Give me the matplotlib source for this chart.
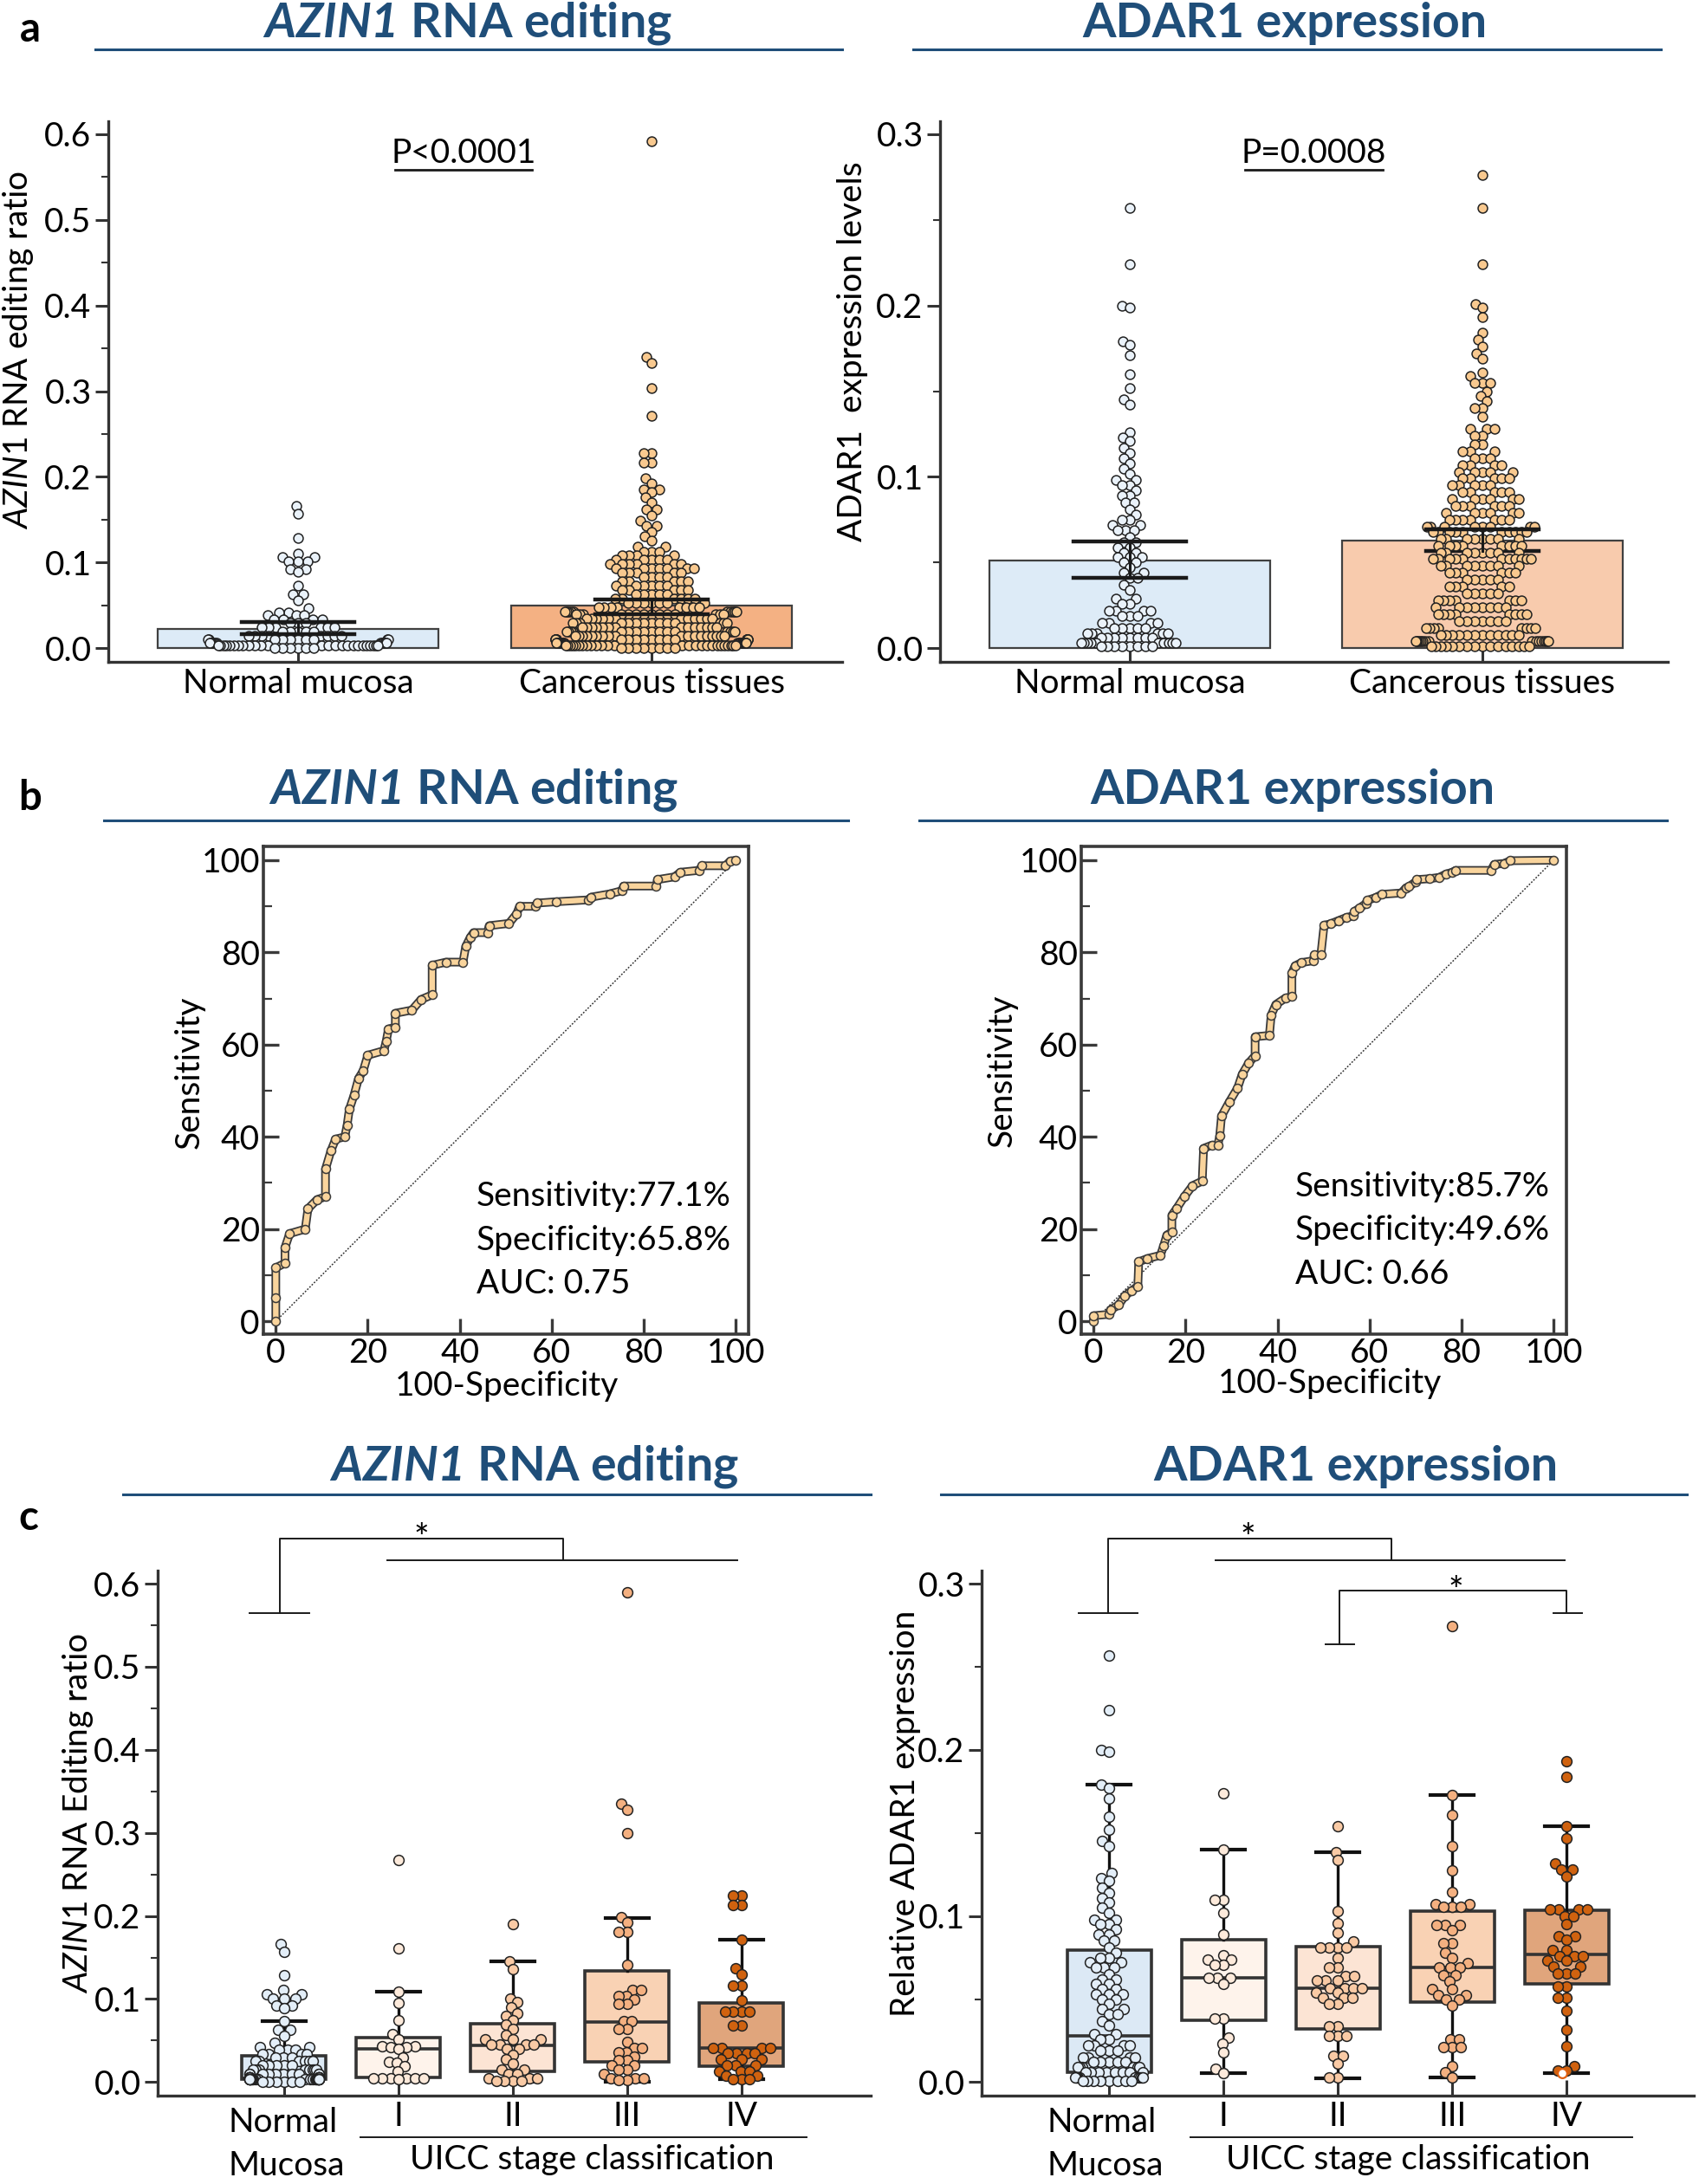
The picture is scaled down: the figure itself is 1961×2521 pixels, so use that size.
"""AZIN1 editing / ADAR1 expression: dot-bar plots, ROC curves and UICC-stage boxplots."""
import numpy as np
import matplotlib
matplotlib.use("Agg")
import matplotlib.pyplot as plt
from matplotlib.lines import Line2D
from matplotlib.ticker import MultipleLocator, FormatStrFormatter
from matplotlib.transforms import blended_transform_factory

plt.rcParams['font.family'] = ['Lato', 'DejaVu Sans']
plt.rcParams['mathtext.fontset'] = 'custom'
plt.rcParams['mathtext.rm'] = 'Lato'
plt.rcParams['mathtext.it'] = 'Lato:italic'
plt.rcParams['mathtext.bf'] = 'Lato:bold'
plt.rcParams['mathtext.bfit'] = 'Lato:bold:italic'

# ---------------- data ----------------
groups_a = ['Normal mucosa', 'Cancerous tissues']

# panel a, AZIN1 editing ratio (value levels and number of dots at each level)
azin_normal_vals = [0.166, 0.157, 0.129, 0.111, 0.106, 0.101, 0.092, 0.089, 0.073, 0.063, 0.056,
                    0.047, 0.042, 0.039, 0.034, 0.030, 0.025, 0.020, 0.015, 0.010, 0.006, 0.003, 0.000]
azin_normal_cnts = [1, 1, 1, 1, 2, 3, 2, 1, 1, 2, 1,
                    1, 2, 3, 4, 3, 6, 5, 8, 10, 12, 25, 6]
azin_cancer_vals = [0.592, 0.340, 0.333, 0.304, 0.271, 0.228, 0.217, 0.198, 0.192, 0.185, 0.182,
                    0.176, 0.170, 0.162, 0.155, 0.149, 0.143, 0.136, 0.131, 0.126,
                    0.119, 0.113, 0.108, 0.103, 0.098, 0.093, 0.088, 0.083, 0.078, 0.073,
                    0.068, 0.063, 0.058, 0.053, 0.048, 0.043, 0.040, 0.035, 0.030, 0.025,
                    0.020, 0.015, 0.010, 0.006, 0.003, 0.000]
azin_cancer_cnts = [1, 1, 1, 1, 1, 2, 2, 1, 1, 2, 1,
                    1, 1, 2, 1, 1, 2, 1, 1, 1,
                    2, 3, 4, 5, 6, 7, 5, 4, 5, 6,
                    5, 5, 6, 7, 8, 10, 14, 12, 14, 14,
                    16, 18, 20, 22, 26, 8]
azin_bar_mean = [0.023, 0.0496]
azin_ci_low = [0.017, 0.040]
azin_ci_high = [0.031, 0.057]

# panel a, ADAR1 expression levels
adar_normal_vals = [0.257, 0.224, 0.200, 0.199, 0.179, 0.177, 0.171, 0.160, 0.152, 0.145, 0.142,
                    0.126, 0.123, 0.121, 0.117, 0.114, 0.111, 0.108, 0.105, 0.102, 0.098, 0.095,
                    0.092, 0.089, 0.085, 0.081, 0.078, 0.075, 0.072, 0.069, 0.065, 0.062, 0.059,
                    0.056, 0.053, 0.050, 0.047, 0.044, 0.041, 0.037, 0.034, 0.029, 0.026, 0.022,
                    0.019, 0.015, 0.012, 0.009, 0.006, 0.003, 0.001]
adar_normal_cnts = [1, 1, 1, 1, 1, 1, 1, 1, 1, 1, 1,
                    1, 1, 1, 1, 1, 1, 1, 1, 1, 2, 2,
                    1, 2, 2, 1, 1, 2, 2, 3, 1, 2, 2,
                    2, 3, 2, 1, 2, 2, 1, 1, 2, 2, 4,
                    3, 4, 5, 6, 8, 10, 8]
adar_cancer_vals = [0.276, 0.257, 0.224, 0.201, 0.199, 0.193, 0.184, 0.180, 0.176, 0.172, 0.169,
                    0.161, 0.159, 0.155, 0.150, 0.147, 0.144, 0.140, 0.135, 0.128, 0.124, 0.119,
                    0.115, 0.111, 0.107, 0.103, 0.099, 0.095, 0.091, 0.087, 0.083, 0.079, 0.075,
                    0.071, 0.068, 0.064, 0.060, 0.056, 0.052, 0.048, 0.044, 0.040, 0.036, 0.032,
                    0.028, 0.024, 0.020, 0.016, 0.012, 0.008, 0.004, 0.001]
adar_cancer_cnts = [1, 1, 1, 1, 1, 1, 1, 1, 1, 1, 1,
                    1, 1, 3, 1, 1, 1, 2, 1, 3, 2, 2,
                    3, 3, 4, 5, 5, 5, 5, 6, 6, 6, 7,
                    8, 10, 8, 8, 8, 11, 8, 6, 5, 5, 5,
                    7, 8, 8, 7, 8, 12, 16, 16]
adar_bar_mean = [0.0514, 0.063]
adar_ci_low = [0.041, 0.057]
adar_ci_high = [0.0625, 0.0693]

# panel b, ROC curves (100-specificity, sensitivity)
roc_azin_fpr = [0, 0, 0, 2, 2, 3, 6.4, 7, 9, 10.8, 10.8, 12, 13, 15, 15.5, 16, 17, 18, 19, 20,
                23.5, 24, 24.5, 26, 26, 29.6, 31.6, 34, 34, 37, 40.7, 41.3, 42.3, 43, 46, 46.4,
                50.7, 52.4, 53, 56.5, 56.8, 61, 67.9, 68.6, 72.6, 75.3, 75.6, 82.7, 83, 86.7,
                88, 92, 92.7, 97.8, 98.8, 100]
roc_azin_tpr = [0, 5, 11.6, 12.6, 16, 19, 20, 24.4, 26.4, 27, 33, 37, 39.5, 40, 42.5, 46, 49, 52.7,
                54.3, 57.7, 58.7, 60.7, 63.4, 63.8, 66.8, 67.5, 69.8, 70.8, 77.2, 77.9, 77.9, 81.3,
                83.3, 84.3, 84.3, 85.8, 86.3, 88.4, 90, 90, 90.7, 91, 91.4, 92, 92.7, 93.4, 94.4,
                94.4, 95.8, 96.4, 97.4, 97.8, 98.8, 98.8, 99.8, 100]
roc_adar_fpr = [0, 0, 3.3, 3.7, 5.4, 6.8, 8.2, 9.6, 9.8, 11.7, 14.5, 15.2, 15.9, 17, 17, 18, 19.7,
                21.5, 23.6, 23.9, 25.7, 27, 27.4, 27.8, 29.5, 31.3, 32.3, 33.7, 35.1, 35.1, 38.2,
                38.6, 39.6, 41.7, 43.1, 43.1, 43.8, 45.2, 47.7, 48, 49.4, 50.1, 51.5, 53.2, 55,
                56.4, 56.7, 57.8, 59.2, 59.5, 61.3, 62.7, 66.9, 67.9, 68.6, 70, 70.3, 73.1, 75.2,
                76.6, 78, 78.7, 86.4, 87.1, 89.2, 90.6, 100]
roc_adar_tpr = [0, 1.2, 1.5, 2.5, 3.5, 5.5, 6.6, 7.6, 12.9, 13.6, 14.3, 16.3, 18.7, 19.3, 23, 24.4,
                27, 29.4, 30.4, 37.5, 38.2, 38.2, 40.2, 44.5, 47.6, 50.6, 53.6, 56, 57.6, 61.7, 62,
                66.4, 68.7, 70.1, 70.4, 75.5, 77.1, 77.8, 78.2, 79.5, 79.5, 85.9, 86.2, 86.9, 87.6,
                87.9, 88.9, 89.6, 90.6, 91.3, 91.9, 92.6, 92.9, 94, 94.3, 95.3, 95.8, 96, 96.3, 97,
                97.4, 97.8, 97.8, 99.1, 99.3, 99.9, 100]
roc_azin_text = ['Sensitivity:77.1%', 'Specificity:65.8%', 'AUC: 0.75']
roc_adar_text = ['Sensitivity:85.7%', 'Specificity:49.6%', 'AUC: 0.66']

# panel c, UICC stages
stages = ['I', 'II', 'III', 'IV']
azin_stage1 = [0.267, 0.161, 0.109, 0.095, 0.074, 0.058, 0.051, 0.043, 0.043, 0.042, 0.042, 0.040,
               0.030, 0.024, 0.023, 0.019, 0.013, 0.005, 0.005, 0.005, 0.005, 0.005, 0.005, 0.003]
azin_stage2 = [0.190, 0.145, 0.136, 0.101, 0.0965, 0.090, 0.083, 0.080, 0.0745, 0.069, 0.064, 0.057,
               0.051, 0.051, 0.051, 0.045, 0.045, 0.045, 0.045, 0.0395, 0.0395, 0.0325, 0.027, 0.022,
               0.015, 0.015, 0.0098, 0.0098, 0.0045, 0.0045, 0.0045, 0.001, 0.001, 0.001, 0.001]
azin_stage3 = [0.590, 0.335, 0.328, 0.300, 0.199, 0.192, 0.181, 0.181, 0.141, 0.111, 0.111, 0.104,
               0.104, 0.099, 0.094, 0.094, 0.073, 0.073, 0.064, 0.064, 0.048, 0.041, 0.041, 0.036,
               0.036, 0.031, 0.026, 0.026, 0.020, 0.020, 0.015, 0.015, 0.010, 0.0045, 0.0045,
               0.0045, 0.002, 0.002]
azin_stage4 = [0.225, 0.225, 0.213, 0.213, 0.171, 0.137, 0.130, 0.116, 0.116, 0.098, 0.085, 0.085,
               0.085, 0.085, 0.068, 0.068, 0.041, 0.041, 0.041, 0.041, 0.035, 0.035, 0.035, 0.035,
               0.027, 0.027, 0.027, 0.020, 0.020, 0.020, 0.013, 0.013, 0.013, 0.008, 0.008, 0.003,
               0.003, 0.003]
# box stats: q1, median, q3, lower whisker, upper whisker
azin_box = [(0.003, 0.005, 0.032, 0.0, 0.073),
            (0.0056, 0.0395, 0.054, 0.002, 0.109),
            (0.0126, 0.044, 0.0706, 0.0, 0.145),
            (0.024, 0.072, 0.134, 0.0, 0.197),
            (0.019, 0.041, 0.095, 0.003, 0.171)]

adar_stage1 = [0.1737, 0.140, 0.110, 0.110, 0.102, 0.089, 0.0764, 0.0736, 0.0736, 0.0707, 0.0707,
               0.0628, 0.0628, 0.0628, 0.0593, 0.0384, 0.0384, 0.027, 0.023, 0.0178, 0.0079, 0.0056]
adar_stage2 = [0.154, 0.1386, 0.1335, 0.103, 0.0956, 0.090, 0.0846, 0.0812, 0.0812, 0.0812, 0.0812,
               0.0747, 0.069, 0.069, 0.0637, 0.0637, 0.061, 0.061, 0.061, 0.0567, 0.0567, 0.0567,
               0.0567, 0.054, 0.054, 0.0506, 0.0506, 0.0506, 0.047, 0.047, 0.0335, 0.0335, 0.028,
               0.028, 0.028, 0.0157, 0.0157, 0.0113, 0.003, 0.003]
adar_stage3 = [0.2745, 0.173, 0.1606, 0.142, 0.1274, 0.1143, 0.107, 0.107, 0.1056, 0.1056, 0.1056,
               0.0946, 0.0946, 0.0946, 0.0916, 0.0838, 0.0838, 0.0777, 0.075, 0.0716, 0.069, 0.069,
               0.069, 0.0646, 0.0646, 0.0607, 0.0558, 0.0558, 0.0524, 0.0524, 0.0497, 0.0497,
               0.0462, 0.026, 0.026, 0.0209, 0.0209, 0.0209, 0.0096, 0.006, 0.003]
adar_stage4 = [0.193, 0.184, 0.154, 0.147, 0.1317, 0.128, 0.128, 0.124, 0.1038, 0.1038, 0.1038,
               0.1038, 0.100, 0.100, 0.095, 0.088, 0.088, 0.0859, 0.0794, 0.0794, 0.0759, 0.0759,
               0.0759, 0.0733, 0.0733, 0.0698, 0.0698, 0.0654, 0.0654, 0.0654, 0.0576, 0.0576,
               0.051, 0.051, 0.0428, 0.0314, 0.0218, 0.0096, 0.007, 0.007]
adar_stage4_open = [0.0055]
adar_box = [(0.0061, 0.028, 0.0794, 0.0, 0.179),
            (0.0375, 0.0628, 0.0859, 0.0052, 0.140),
            (0.0323, 0.0564, 0.0817, 0.0021, 0.1386),
            (0.0483, 0.069, 0.103, 0.003, 0.1728),
            (0.059, 0.0768, 0.1037, 0.0052, 0.154)]

# ---------------- style ----------------
W, H = 1961, 2521
BLUE = '#1F4E79'
DARK = '#333333'
TICK_FS = 28
TITLE_FS = 40
bar_colors_a1 = ['#DDEBF7', '#F4B183']
bar_colors_a2 = ['#DDEBF7', '#F8CBAD']
dot_colors_a = ['#EAF2FA', '#F9C98F']
box_colors = ['#DCE9F5', '#FEF3EB', '#FCE4D4', '#F9D2B4', '#E0A57C']
box_dot_colors = ['#E3EEF8', '#FDEADB', '#F9CAA5', '#F4B080', '#D0620F']
roc_color = '#F9D49C'

fig = plt.figure(figsize=(W / 100, H / 100), dpi=100)


def fy(ypx):
    return 1 - ypx / H


def axes_px(l, t, r, b):
    return fig.add_axes([l / W, 1 - b / H, (r - l) / W, (b - t) / H])


def ftext(x, y, s, **kw):
    return fig.text(x / W, fy(y), s, **kw)


def fline(x0, x1, y0, y1, **kw):
    fig.add_artist(Line2D([x0 / W, x1 / W], [fy(y0), fy(y1)], transform=fig.transFigure, **kw))


def swarm(vals, ax, center, diam, maxw=None):
    """simple beeswarm: x positions (data units) so dots of diam px do not overlap;
    very wide rows are squeezed to about maxw px on each side"""
    pos = ax.get_position()
    xl, yl = ax.get_xlim(), ax.get_ylim()
    sx = pos.width * W / (xl[1] - xl[0])
    sy = pos.height * H / (yl[1] - yl[0])
    vals = np.asarray(vals, float)
    xs = np.zeros(len(vals))
    px, py = [], []
    for i in np.argsort(vals, kind='stable'):
        y = vals[i] * sy
        blocks, cands = [], [0.0]
        for qx, qy in zip(px, py):
            dy = abs(qy - y)
            if dy < diam:
                dx = np.sqrt(diam ** 2 - dy ** 2)
                blocks.append((qx - dx, qx + dx))
                cands += [qx - dx, qx + dx]
        for c in sorted(cands, key=abs):
            if all(not (lo + 1e-6 < c < hi - 1e-6) for lo, hi in blocks):
                break
        xs[i] = c
        px.append(c)
        py.append(y)
    if maxw:
        xs = maxw * np.tanh(xs / maxw)
    return center + xs / sx


def style_axes(ax, ymax, ystep):
    for s in ['top', 'right']:
        ax.spines[s].set_visible(False)
    for s in ['left', 'bottom']:
        ax.spines[s].set_linewidth(2.4)
        ax.spines[s].set_color(DARK)
    ax.set_yticks(np.arange(0, ymax + 1e-9, ystep))
    ax.yaxis.set_minor_locator(MultipleLocator(ystep / 2))
    ax.yaxis.set_major_formatter(FormatStrFormatter('%.1f'))
    ax.tick_params(axis='y', which='major', direction='out', length=11, width=2.2,
                   color=DARK, labelsize=TICK_FS, pad=3)
    ax.tick_params(axis='y', which='minor', direction='out', length=6, width=1.5, color=DARK)
    ax.tick_params(axis='x', direction='in', length=13, width=2.2, color=DARK, labelbottom=False)


def title(xc, y, x0, x1, yl, italic, rest):
    if italic:
        s = r'$\mathbfit{' + italic + '}$' + rest
    else:
        s = rest
    ftext(xc, y, s, ha='center', va='center', fontsize=TITLE_FS, fontweight='bold', color=BLUE)
    fline(x0, x1, yl, yl, color=BLUE, lw=2.2)


# ---------------- panel a ----------------
def dot_bar(ax, nvals, ncnts, cvals, ccnts, means, lo, hi, bar_colors, diam, maxws):
    ax.bar([0, 1], means, width=0.795, color=bar_colors, edgecolor='#404040', lw=1.6, zorder=1)
    for k, (v, c) in enumerate([(nvals, ncnts), (cvals, ccnts)]):
        y = np.repeat(v, c)
        x = swarm(y, ax, k, diam, maxws[k])
        ax.scatter(x, y, s=62, color=dot_colors_a[k], edgecolors='#222222', linewidths=1.1,
                   zorder=3, clip_on=False)
    for k in range(2):
        ax.plot([k - 0.16, k + 0.16], [hi[k], hi[k]], color='#1a1a1a', lw=3.2, zorder=4)
        ax.plot([k - 0.16, k + 0.16], [lo[k], lo[k]], color='#1a1a1a', lw=3.2,
                zorder=4 if k == 0 or ax is axA1 else 2)
        ax.plot([k, k], [lo[k], hi[k]], color='#1a1a1a', lw=2.2, zorder=4)
    ax.set_xticks([0, 1])


axA1 = axes_px(125, 140, 972, 764)
axA1.set_xlim(-0.537, 1.539)
axA1.set_ylim(-0.0158, 0.6148)
style_axes(axA1, 0.6, 0.1)
dot_bar(axA1, azin_normal_vals, azin_normal_cnts, azin_cancer_vals, azin_cancer_cnts,
        azin_bar_mean, azin_ci_low, azin_ci_high, bar_colors_a1, 9.2, (108, 112))

axA2 = axes_px(1085, 140, 1925, 764)
axA2.set_xlim(-0.538, 1.526)
axA2.set_ylim(-0.0079, 0.3074)
style_axes(axA2, 0.3, 0.1)
dot_bar(axA2, adar_normal_vals, adar_normal_cnts, adar_cancer_vals, adar_cancer_cnts,
        adar_bar_mean, adar_ci_low, adar_ci_high, bar_colors_a2, 9.2, (66, 82))

for ax in (axA1, axA2):
    tr = blended_transform_factory(ax.transData, fig.transFigure)
    for k, g in enumerate(groups_a):
        ax.text(k, fy(789), g, transform=tr, ha='center', va='center', fontsize=TICK_FS)

ftext(535, 177, 'P<0.0001', ha='center', va='center', fontsize=TICK_FS)
fline(456, 614, 196, 196, color='#1a1a1a', lw=2)
ftext(1516, 177, 'P=0.0008', ha='center', va='center', fontsize=TICK_FS)
fline(1437, 1596, 196, 196, color='#1a1a1a', lw=2)

ftext(21, 404, r'$\mathit{AZIN1}$ RNA editing ratio', rotation=90, ha='center', va='center',
      fontsize=TICK_FS)
ftext(984, 406, 'ADAR1  expression levels', rotation=90, ha='center', va='center',
      fontsize=TICK_FS)

title(539, 27, 110, 972, 57, 'AZIN1', ' RNA editing')
title(1483, 27, 1054, 1917, 57, None, 'ADAR1 expression')
ftext(35, 34, 'a', ha='center', va='center', fontsize=34, fontweight='bold')

# ---------------- panel b ----------------
def roc(ax, fpr, tpr, lines, tx, ty):
    ax.set_xlim(-2.7, 102.8)
    ax.set_ylim(-2.8, 103)
    ax.plot([0, 100], [0, 100], color='#333333', lw=1.1, ls=(0, (1.2, 1.2)), zorder=1)
    ax.plot(fpr, tpr, color='#3A3A3A', lw=7.2, solid_joinstyle='round', solid_capstyle='round',
            zorder=2)
    ax.plot(fpr, tpr, color=roc_color, lw=4.6, solid_joinstyle='round', solid_capstyle='round',
            zorder=3)
    ax.plot(fpr, tpr, 'o', ms=7.2, mfc=roc_color, mec='#3A3A3A', mew=1.1, zorder=4)
    for s in ax.spines.values():
        s.set_linewidth(2.6)
        s.set_color('#3A3A3A')
    ax.set_xticks(np.arange(0, 101, 20))
    ax.set_yticks(np.arange(0, 101, 20))
    ax.yaxis.set_minor_locator(MultipleLocator(10))
    ax.tick_params(axis='both', which='major', direction='in', length=13, width=2.4,
                   color='#3A3A3A', labelsize=TICK_FS, pad=3)
    ax.tick_params(axis='y', which='minor', direction='in', length=7, width=1.6, color='#3A3A3A')
    for k, s in enumerate(lines):
        ftext(tx, ty[k], s, ha='left', va='center', fontsize=TICK_FS)


axB1 = axes_px(304, 977, 864, 1540)
roc(axB1, roc_azin_fpr, roc_azin_tpr, roc_azin_text, 550, [1381, 1432, 1482])
axB2 = axes_px(1248, 977, 1808, 1540)
roc(axB2, roc_adar_fpr, roc_adar_tpr, roc_adar_text, 1495, [1370, 1420, 1471])

ftext(219, 1238, 'Sensitivity', rotation=90, ha='center', va='center', fontsize=TICK_FS)
ftext(1157, 1236, 'Sensitivity', rotation=90, ha='center', va='center', fontsize=TICK_FS)
ftext(585, 1600, '100-Specificity', ha='center', va='center', fontsize=TICK_FS)
ftext(1535, 1597, '100-Specificity', ha='center', va='center', fontsize=TICK_FS)

title(546, 912, 120, 979, 947, 'AZIN1', ' RNA editing')
title(1492, 912, 1061, 1924, 947, None, 'ADAR1 expression')
ftext(35, 921, 'b', ha='center', va='center', fontsize=34, fontweight='bold')

# ---------------- panel c ----------------
def stage_box(ax, normal, stage_lists, box, diam):
    stats = []
    for q1, med, q3, wlo, whi in box:
        stats.append(dict(q1=q1, med=med, q3=q3, whislo=wlo, whishi=whi, fliers=[]))
    bp = ax.bxp(stats, positions=range(5), widths=0.735, capwidths=0.38, patch_artist=True,
                showfliers=False, manage_ticks=False,
                boxprops=dict(edgecolor=DARK, lw=2.6),
                whiskerprops=dict(color='#111111', lw=2.4),
                capprops=dict(color='#111111', lw=3.0),
                medianprops=dict(color=DARK, lw=2.6))
    for patch, c in zip(bp['boxes'], box_colors):
        patch.set_facecolor(c)
    for k, vals in enumerate([normal] + stage_lists):
        x = swarm(vals, ax, k, diam, 40 if k == 0 else None)
        ax.scatter(x, vals, s=72, color=box_dot_colors[k], edgecolors='#222222', linewidths=1.1,
                   zorder=5, clip_on=False)
    ax.set_xticks(range(5))


def bracket(ax, pts):
    xs, ys = zip(*pts)
    ax.plot(xs, ys, color='#1a1a1a', lw=1.4, clip_on=False)


def star(ax, x, y):
    ax.text(x, y, '*', ha='center', va='baseline', fontsize=30)


axC1 = axes_px(182, 1813, 1005, 2419)
axC1.set_xlim(-1.106, 5.13)
axC1.set_ylim(-0.0163, 0.6157)
style_axes(axC1, 0.6, 0.1)
stage_box(axC1, np.repeat(azin_normal_vals, azin_normal_cnts),
          [azin_stage1, azin_stage2, azin_stage3, azin_stage4], azin_box, 9.6)
bracket(axC1, [(-0.30, 0.5646), (0.22, 0.5646)])
bracket(axC1, [(-0.04, 0.5646), (-0.04, 0.6546), (2.44, 0.6546), (2.44, 0.6285)])
bracket(axC1, [(0.90, 0.6285), (3.96, 0.6285)])
star(axC1, 1.2, 0.641)

axC2 = axes_px(1133, 1813, 1955, 2419)
axC2.set_xlim(-1.114, 5.11)
axC2.set_ylim(-0.0081, 0.3079)
style_axes(axC2, 0.3, 0.1)
stage_box(axC2, np.repeat(adar_normal_vals, adar_normal_cnts),
          [adar_stage1, adar_stage2, adar_stage3, adar_stage4], adar_box, 10.0)
axC2.scatter([3.96], adar_stage4_open, s=60, color='white', edgecolors='#E06010', linewidths=1.6,
             zorder=6)
bracket(axC2, [(-0.265, 0.2823), (0.25, 0.2823)])
bracket(axC2, [(-0.01, 0.2823), (-0.01, 0.3273), (2.47, 0.3273), (2.47, 0.3142)])
bracket(axC2, [(0.93, 0.3142), (3.98, 0.3142)])
star(axC2, 1.21, 0.3203)
bracket(axC2, [(1.89, 0.2634), (2.14, 0.2634)])
bracket(axC2, [(2.01, 0.2634), (2.01, 0.2959), (4.0, 0.2959), (4.0, 0.2823)])
bracket(axC2, [(3.88, 0.2823), (4.13, 0.2823)])
star(axC2, 3.03, 0.2885)

for ax, (l0, l1), xc, nx in [(axC1, (416, 931), 683, 327), (axC2, (1374, 1884), 1625, 1272)]:
    tr = blended_transform_factory(ax.transData, fig.transFigure)
    for k, s in enumerate(stages):
        ax.text(k + 1, fy(2443), s, transform=tr, ha='center', va='center', fontsize=TICK_FS)
    ftext(nx, 2450, 'Normal', ha='center', va='center', fontsize=TICK_FS)
    ftext(nx + 4, 2500, 'Mucosa', ha='center', va='center', fontsize=TICK_FS)
    fline(l0, l1, 2467, 2467, color='#1a1a1a', lw=1.4)
    ftext(xc, 2493, 'UICC stage classification', ha='center', va='center', fontsize=TICK_FS)

ftext(90, 2093, r'$\mathit{AZIN1}$ RNA Editing ratio', rotation=90, ha='center', va='center',
      fontsize=TICK_FS)
ftext(1045, 2093, 'Relative ADAR1 expression', rotation=90, ha='center', va='center',
      fontsize=TICK_FS)

title(616, 1693, 142, 1005, 1725, 'AZIN1', ' RNA editing')
title(1565, 1693, 1086, 1947, 1725, None, 'ADAR1 expression')
ftext(33, 1752, 'c', ha='center', va='center', fontsize=34, fontweight='bold')

fig.savefig('out.png', dpi=100, facecolor='white')
